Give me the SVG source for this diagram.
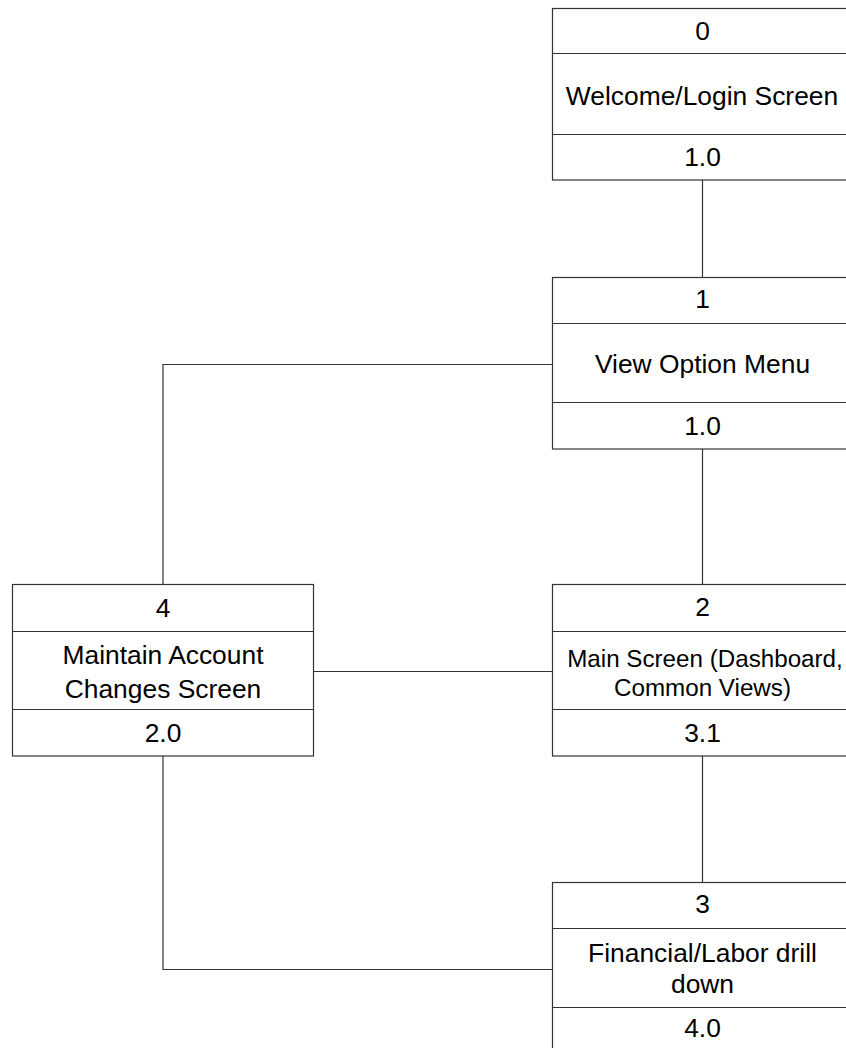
<svg xmlns="http://www.w3.org/2000/svg" width="846" height="1048" viewBox="0 0 846 1048">
  <style>
    .box { fill: #ffffff; stroke: #333333; stroke-width: 1.2; }
    .sep { stroke: #333333; stroke-width: 1.2; fill: none; }
    .wire { stroke: #333333; stroke-width: 1.2; fill: none; }
    text { font-family: "Liberation Sans", Arial, sans-serif; fill: #000000; text-anchor: middle; }
    .t { font-size: 26.4px; }
    .s { font-size: 24.2px; }
  </style>
  <rect width="846" height="1048" fill="#ffffff"/>

  <!-- connectors -->
  <g id="connectors">
    <line class="wire" x1="702.5" y1="180" x2="702.5" y2="277"/>
    <line class="wire" x1="702.5" y1="449" x2="702.5" y2="584"/>
    <line class="wire" x1="702.5" y1="756" x2="702.5" y2="882"/>
    <polyline class="wire" points="552,364.5 163,364.5 163,584"/>
    <line class="wire" x1="313" y1="671.5" x2="552" y2="671.5"/>
    <polyline class="wire" points="163,756 163,969.5 552,969.5"/>
  </g>

  <!-- node 0 -->
  <g id="node0">
    <rect class="box" x="552.5" y="8.5" width="301" height="171.5"/>
    <line class="sep" x1="552.5" y1="53.5" x2="853" y2="53.5"/>
    <line class="sep" x1="552.5" y1="134.5" x2="853" y2="134.5"/>
    <text class="t" x="702.5" y="40">0</text>
    <text class="t" x="702" y="105">Welcome/Login Screen</text>
    <text class="t" x="702.5" y="165.5">1.0</text>
  </g>

  <!-- node 1 -->
  <g id="node1">
    <rect class="box" x="552.5" y="277.5" width="301" height="171.5"/>
    <line class="sep" x1="552.5" y1="323.5" x2="853" y2="323.5"/>
    <line class="sep" x1="552.5" y1="402.5" x2="853" y2="402.5"/>
    <text class="t" x="702.5" y="308">1</text>
    <text class="t" x="702.5" y="373">View Option Menu</text>
    <text class="t" x="702.5" y="435">1.0</text>
  </g>

  <!-- node 2 -->
  <g id="node2">
    <rect class="box" x="552.5" y="584.5" width="301" height="171.5"/>
    <line class="sep" x1="552.5" y1="631.5" x2="853" y2="631.5"/>
    <line class="sep" x1="552.5" y1="709.5" x2="853" y2="709.5"/>
    <text class="t" x="702.5" y="616">2</text>
    <text class="s" x="705" y="666.5">Main Screen (Dashboard,</text>
    <text class="s" x="702.5" y="695.5">Common Views)</text>
    <text class="t" x="702.5" y="742">3.1</text>
  </g>

  <!-- node 4 -->
  <g id="node4">
    <rect class="box" x="12.5" y="584.5" width="301" height="171.5"/>
    <line class="sep" x1="12.5" y1="631.5" x2="313.5" y2="631.5"/>
    <line class="sep" x1="12.5" y1="709.5" x2="313.5" y2="709.5"/>
    <text class="t" x="163" y="617">4</text>
    <text class="t" x="163" y="664">Maintain Account</text>
    <text class="t" x="163" y="697.5">Changes Screen</text>
    <text class="t" x="163" y="742">2.0</text>
  </g>

  <!-- node 3 -->
  <g id="node3">
    <rect class="box" x="552.5" y="882.5" width="301" height="180"/>
    <line class="sep" x1="552.5" y1="928.5" x2="853" y2="928.5"/>
    <line class="sep" x1="552.5" y1="1007.5" x2="853" y2="1007.5"/>
    <text class="t" x="702.5" y="913">3</text>
    <text class="t" x="702.5" y="962">Financial/Labor drill</text>
    <text class="t" x="702.5" y="993">down</text>
    <text class="t" x="702.5" y="1037">4.0</text>
  </g>
</svg>
